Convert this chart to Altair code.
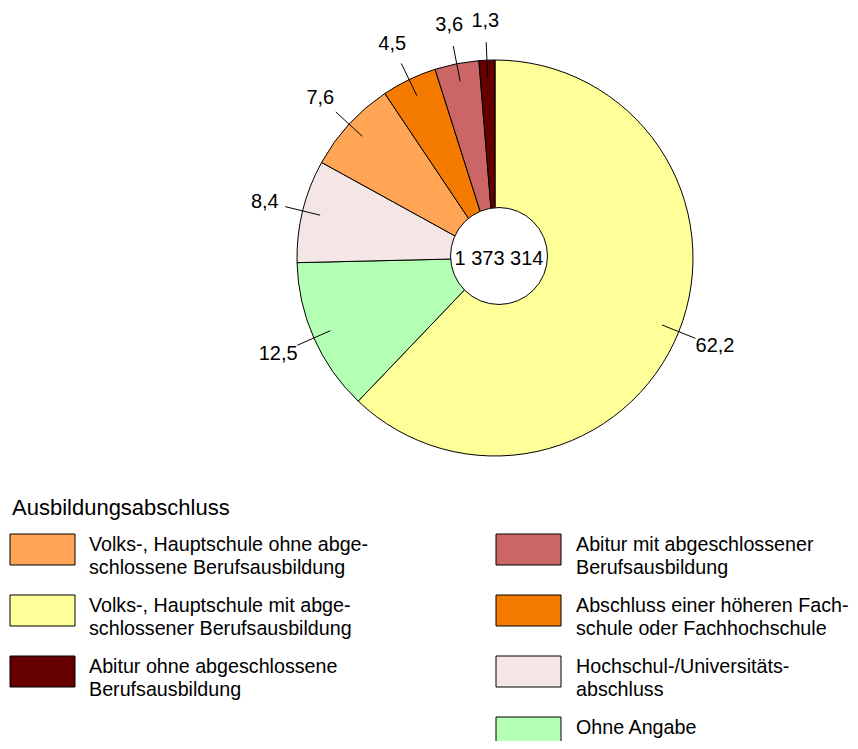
import altair as alt
import pandas as pd

# ---- data ----
keys = ["vh_mit", "ohne", "hoch", "vh_ohne", "fh", "abi_mit", "abi_ohne"]
shares = [62.2, 12.5, 8.4, 7.6, 4.5, 3.6, 1.3]
share_labels = ["62,2", "12,5", "8,4", "7,6", "4,5", "3,6", "1,3"]
colors = ["#FFFF99", "#B3FFB3", "#F5E6E6", "#FFA555", "#F57A00", "#CC6666", "#660000"]
legend_labels = [
    "Volks-, Hauptschule mit abge-\nschlossener Berufsausbildung",
    "Ohne Angabe",
    "Hochschul-/Universitäts-\nabschluss",
    "Volks-, Hauptschule ohne abge-\nschlossene Berufsausbildung",
    "Abschluss einer höheren Fach-\nschule oder Fachhochschule",
    "Abitur mit abgeschlossener\nBerufsausbildung",
    "Abitur ohne abgeschlossene\nBerufsausbildung",
]
legend_col = [0, 1, 1, 0, 1, 1, 0]
legend_row = [1, 3, 2, 0, 1, 0, 2]
total_label = "1 373 314"
legend_title = "Ausbildungsabschluss"

FONT = "Liberation Sans"
CX, CY = 487, 250

pie_df = pd.DataFrame({
    "key": keys, "share": shares, "label": share_labels,
    "idx": list(range(len(keys))),
})
leg_df = pd.DataFrame({
    "key": keys, "text": legend_labels, "col": legend_col, "row": legend_row,
})

color_scale = alt.Scale(domain=keys, range=colors)

pie = alt.Chart(pie_df).mark_arc(outerRadius=198, stroke="black", strokeWidth=1).encode(
    theta=alt.Theta("share:Q", stack=True),
    order=alt.Order("idx:Q"),
    color=alt.Color("key:N", scale=color_scale, legend=None),
    x=alt.value(CX), y=alt.value(CY),
)

geo = alt.Chart(pie_df).transform_joinaggregate(
    total="sum(share)"
).transform_window(
    cum="sum(share)", sort=[alt.SortField("idx")], frame=[None, 0]
).transform_calculate(
    mid="(datum.cum - datum.share/2)/datum.total*2*PI",
    x1=f"{CX}+180*sin(datum.mid)", y1=f"{CY}-180*cos(datum.mid)",
    x2=f"{CX}+216*sin(datum.mid)", y2=f"{CY}-216*cos(datum.mid)",
    lx=f"{CX}+237*sin(datum.mid)", ly=f"{CY}-237*cos(datum.mid)",
)

leaders = geo.mark_rule(color="black", strokeWidth=1).encode(
    x=alt.X("x1:Q", scale=None), y=alt.Y("y1:Q", scale=None),
    x2="x2:Q", y2="y2:Q",
)

labels = geo.mark_text(align="center", baseline="middle", fontSize=20, font=FONT).encode(
    x=alt.X("lx:Q", scale=None), y=alt.Y("ly:Q", scale=None), text="label:N")

center_df = pd.DataFrame({"t": [total_label]})
hole = alt.Chart(center_df).mark_point(
    shape="circle", filled=True, fill="white", stroke="black", strokeWidth=1,
    size=9400, opacity=1,
).encode(x=alt.value(CX + 4), y=alt.value(CY - 2))
hole_txt = alt.Chart(center_df).mark_text(
    fontSize=20, font=FONT, baseline="middle", align="center"
).encode(x=alt.value(CX + 4), y=alt.value(CY + 1), text="t:N")

leg = alt.Chart(leg_df).transform_calculate(
    rx="2+datum.col*486", rx2="67+datum.col*486",
    ry="526+datum.row*61", ry2="557+datum.row*61",
    tx="81+datum.col*487",
    ty="indexof(datum.text, '\\n') < 0 ? 527+datum.row*61 : 527+datum.row*61",
)
leg_rect = leg.mark_rect(stroke="black", strokeWidth=1).encode(
    x=alt.X("rx:Q", scale=None), x2="rx2:Q",
    y=alt.Y("ry:Q", scale=None), y2="ry2:Q",
    color=alt.Color("key:N", scale=color_scale, legend=None),
)
leg_text = leg.mark_text(
    align="left", baseline="top", fontSize=19.7, font=FONT, lineBreak="\n", lineHeight=23
).encode(x=alt.X("tx:Q", scale=None), y=alt.Y("ty:Q", scale=None), text="text:N")

title_txt = alt.Chart(pd.DataFrame({"t": [legend_title]})).mark_text(
    align="left", baseline="middle", fontSize=22, font=FONT
).encode(x=alt.value(4), y=alt.value(500), text="t:N")

chart = alt.layer(
    pie, leaders, labels, hole, hole_txt,
    title_txt, leg_rect, leg_text,
).properties(
    width=842, height=733, autosize=alt.AutoSizeParams(type="none"), padding=0,
).configure_view(stroke=None)

chart.save("out.html", embed_options={"renderer": "svg", "actions": False})
